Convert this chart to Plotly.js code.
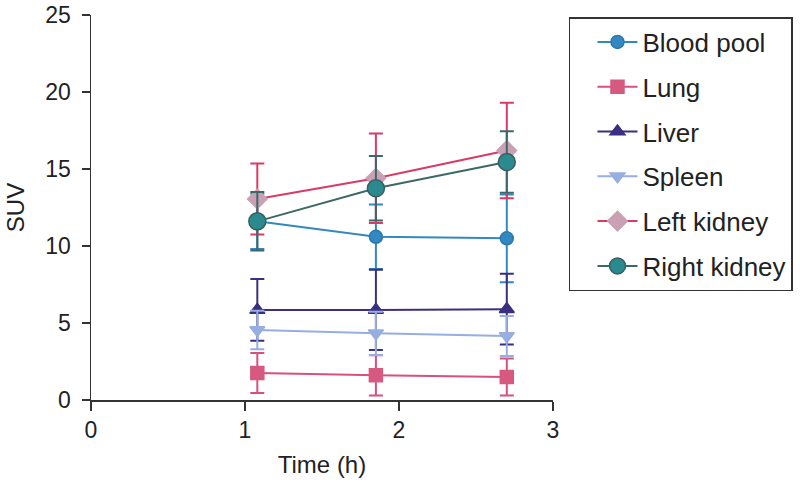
<!DOCTYPE html>
<html>
<head>
<meta charset="utf-8">
<script src="https://cdn.plot.ly/plotly-3.0.1.min.js"></script>
<style>html,body{margin:0;padding:0;background:#fff;}#chart{width:800px;height:486px;}</style>
</head>
<body>
<div id="chart"></div>
<script>
const timeH = [1.08, 1.85, 2.70];
const seriesNames = ["Blood pool", "Lung", "Liver", "Spleen", "Left kidney", "Right kidney"];
const bloodPool = [11.6, 10.6, 10.5];
const bloodPoolErr = [1.8, 2.1, 2.85];
const lung = [1.75, 1.6, 1.5];
const lungErr = [1.3, 1.3, 1.2];
const liver = [5.85, 5.85, 5.9];
const liverErr = [2.0, 2.6, 2.3];
const spleen = [4.55, 4.33, 4.15];
const spleenErr = [1.25, 1.4, 1.3];
const leftKidney = [13.05, 14.4, 16.2];
const leftKidneyErr = [2.3, 2.9, 3.1];
const rightKidney = [11.6, 13.75, 15.45];
const rightKidneyErr = [1.9, 2.1, 2.0];
const xTicks = [0, 1, 2, 3];
const yTicks = [0, 5, 10, 15, 20, 25];

const values = [bloodPool, lung, liver, spleen, leftKidney, rightKidney];
const errors = [bloodPoolErr, lungErr, liverErr, spleenErr, leftKidneyErr, rightKidneyErr];
const styles = [
  {line: "#3288c0", fill: "#3288c0", edge: "#2a78ae", symbol: "circle", size: 13},
  {line: "#d8507c", fill: "#d65a80", edge: "#d65a80", symbol: "square", size: 13},
  {line: "#3a2f80", fill: "#3a2f80", edge: "#3a2f80", symbol: "triangle-up", size: 13},
  {line: "#97aee0", fill: "#97aee0", edge: "#97aee0", symbol: "triangle-down", size: 13},
  {line: "#d93a66", fill: "#c9a0b4", edge: "#c9a0b4", symbol: "diamond", size: 15},
  {line: "#3d6868", fill: "#2a8a8f", edge: "#3a5f60", symbol: "circle", size: 17}
];

const traces = seriesNames.map((name, i) => ({
  type: "scatter",
  mode: "lines+markers",
  name: name,
  legendgroup: "g" + i,
  x: timeH,
  y: values[i],
  line: {color: styles[i].line, width: 2},
  marker: {symbol: styles[i].symbol, size: styles[i].size, color: styles[i].fill,
           line: {color: styles[i].edge, width: 1.5}},
  error_y: {type: "data", array: errors[i], visible: true, color: styles[i].line,
            thickness: 2, width: 7}
}));

const font = "'Liberation Sans', Arial, Helvetica, sans-serif";
const layout = {
  width: 800, height: 486,
  margin: {l: 91, r: 247, t: 15, b: 86, autoexpand: false},
  paper_bgcolor: "#fff", plot_bgcolor: "#fff",
  font: {family: font, color: "#222", size: 23},
  showlegend: true,
  xaxis: {
    range: [0, 3], tickvals: xTicks, ticktext: xTicks.map(String),
    showgrid: false, zeroline: false, showline: true, linecolor: "#333", linewidth: 1.5,
    ticks: "outside", ticklen: 9, tickwidth: 1.5, tickcolor: "#333",
    tickfont: {size: 23, color: "#222"},
    title: {text: "Time (h)", font: {size: 24, color: "#222"}, standoff: 14}
  },
  yaxis: {
    range: [0, 25], tickvals: yTicks, ticktext: yTicks.map(String),
    showgrid: false, zeroline: false, showline: true, linecolor: "#333", linewidth: 1.5,
    ticks: "outside", ticklen: 8, tickwidth: 1.5, tickcolor: "#333",
    tickfont: {size: 23, color: "#222"}, ticklabelstandoff: 6,
    title: {text: "SUV", font: {size: 24, color: "#222"}, standoff: 14}
  },
  legend: {
    x: 1.0346, xanchor: "left", y: 0.9948, yanchor: "top",
    traceorder: "grouped", tracegroupgap: 8,
    bordercolor: "#333", borderwidth: 1.5, bgcolor: "#fff",
    font: {size: 26, color: "#222", family: font},
    itemwidth: 40, indentation: 22
  }
};

Plotly.newPlot("chart", traces, layout, {displayModeBar: false, staticPlot: true});
</script>
</body>
</html>
